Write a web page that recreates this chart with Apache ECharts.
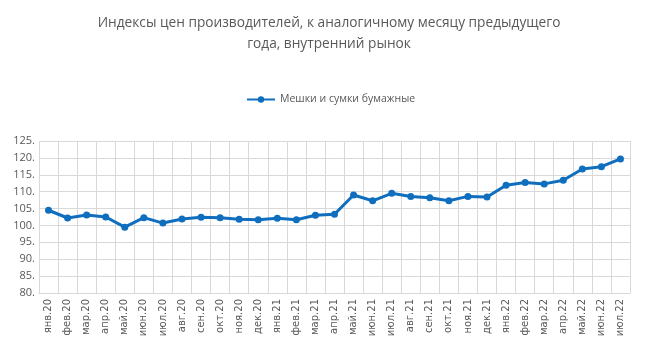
<!DOCTYPE html>
<html><head><meta charset="utf-8">
<script src="https://cdn.jsdelivr.net/npm/echarts@6/dist/echarts.min.js"></script>
<style>html,body{margin:0;padding:0;background:#fff}#c{width:645px;height:359px}</style>
</head><body><div id="c"></div>
<script>
const categories = ['янв.20','фев.20','мар.20','апр.20','май.20','июн.20','июл.20','авг.20','сен.20','окт.20','ноя.20','дек.20',
  'янв.21','фев.21','мар.21','апр.21','май.21','июн.21','июл.21','авг.21','сен.21','окт.21','ноя.21','дек.21',
  'янв.22','фев.22','мар.22','апр.22','май.22','июн.22','июл.22'];
const values = [104.5,102.2,103.1,102.5,99.5,102.3,100.7,101.9,102.4,102.3,101.8,101.7,
  102.1,101.7,103.0,103.3,109.0,107.3,109.5,108.6,108.2,107.3,108.6,108.4,
  111.9,112.7,112.3,113.4,116.7,117.4,119.7];
const seriesName = 'Мешки и сумки бумажные';
const titleText = 'Индексы цен производителей, к аналогичному месяцу предыдущего\nгода, внутренний рынок';

const chart = echarts.init(document.getElementById('c'));
chart.setOption({
  animation: false,
  title: {
    text: titleText, left: 324, textAlign: 'center', top: 8,
    textStyle: {fontFamily: 'Open Sans', fontSize: 13.7, fontWeight: 'normal', color: '#595959', lineHeight: 21}
  },
  legend: {
    top: 89, left: 241, itemWidth: 28, itemHeight: 8, itemGap: 2,
    textStyle: {fontFamily: 'Open Sans', fontSize: 10.5, color: '#595959'},
    data: [seriesName]
  },
  grid: {left: 39, right: 15, top: 141, bottom: 66},
  xAxis: {
    type: 'category', data: categories, boundaryGap: true,
    axisLine: {lineStyle: {color: '#d9d9d9'}},
    axisTick: {show: false},
    splitLine: {show: true, lineStyle: {color: '#d9d9d9'}},
    axisLabel: {rotate: 90, interval: 0, fontFamily: 'DejaVu Sans', fontSize: 10, color: '#595959', margin: 6}
  },
  yAxis: {
    type: 'value', min: 80, max: 125, interval: 5,
    axisLine: {show: false}, axisTick: {show: false},
    splitLine: {lineStyle: {color: '#d9d9d9'}},
    axisLabel: {fontFamily: 'Open Sans', fontSize: 11, color: '#595959', margin: 4, formatter: v => v + '.'}
  },
  series: [{
    name: seriesName, type: 'line', data: values,
    symbol: 'circle', symbolSize: 7,
    lineStyle: {width: 3, color: '#0f6ebe'},
    itemStyle: {color: '#0f6ebe'}
  }]
});
</script></body></html>
